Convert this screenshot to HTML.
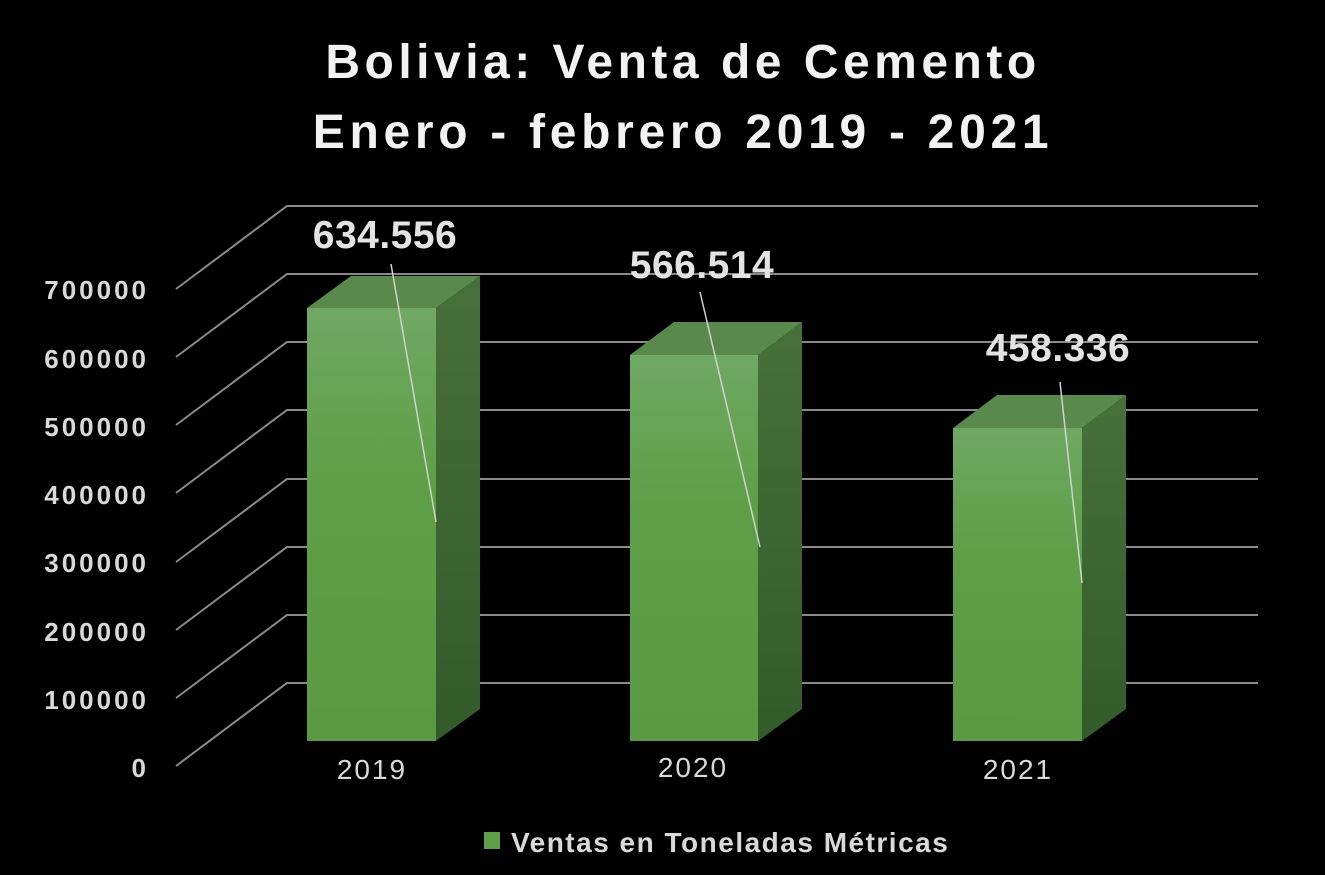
<!DOCTYPE html>
<html><head><meta charset="utf-8"><style>
html,body{margin:0;padding:0;background:#000;}
svg{display:block}
</style></head><body>
<svg width="1325" height="875" viewBox="0 0 1325 875" xmlns="http://www.w3.org/2000/svg">
<defs>
<linearGradient id="f" x1="0" y1="0" x2="0" y2="1"><stop offset="0" stop-color="#6fa863"/><stop offset="0.4" stop-color="#5e9f46"/><stop offset="1" stop-color="#5b9a42"/></linearGradient>
<linearGradient id="s" x1="0" y1="0" x2="0" y2="1"><stop offset="0" stop-color="#47703a"/><stop offset="1" stop-color="#325b2a"/></linearGradient>
</defs>
<rect width="1325" height="875" fill="#000"/>
<g font-family="'Liberation Sans',sans-serif" font-weight="bold" fill="#f2f2f2" text-anchor="middle">
<text x="683" y="78" font-size="48" letter-spacing="4.5">Bolivia: Venta de Cemento</text>
<text x="683" y="148" font-size="48" letter-spacing="4.7">Enero - febrero 2019 - 2021</text>
</g>
<g stroke="#8a8a8a" stroke-width="2" fill="none">
<polyline points="176,766 287,683 1258,683"/>
<polyline points="176,698 287,615 1258,615"/>
<polyline points="176,630 287,547 1258,547"/>
<polyline points="176,562 287,479 1258,479"/>
<polyline points="176,493 287,410 1258,410"/>
<polyline points="176,425 287,342 1258,342"/>
<polyline points="176,357 287,274 1258,274"/>
<polyline points="176,289 287,206 1258,206"/>
</g>
<g font-family="'Liberation Sans',sans-serif" font-weight="bold" font-size="26" letter-spacing="3" fill="#d9d9d9" text-anchor="end">
<text x="149" y="299">700000</text>
<text x="149" y="368">600000</text>
<text x="149" y="436">500000</text>
<text x="149" y="504">400000</text>
<text x="149" y="572">300000</text>
<text x="149" y="641">200000</text>
<text x="149" y="709">100000</text>
<text x="149" y="777">0</text>
</g>
<g>
<polygon points="307,308 351,276 480,276 436,308" fill="#5a8a4b"/>
<polygon points="436,308 480,276 480,709 436,741" fill="url(#s)"/>
<rect x="307" y="308" width="129" height="433" fill="url(#f)"/>
<polygon points="630,355 674,322 802,322 758,355" fill="#5a8a4b"/>
<polygon points="758,355 802,322 802,709 758,741" fill="url(#s)"/>
<rect x="630" y="355" width="128" height="386" fill="url(#f)"/>
<polygon points="953,428 997,395 1126,395 1082,428" fill="#5a8a4b"/>
<polygon points="1082,428 1126,395 1126,709 1082,741" fill="url(#s)"/>
<rect x="953" y="428" width="129" height="313" fill="url(#f)"/>
</g>
<g stroke="#d0d0d0" stroke-width="1.5">
<line x1="391" y1="264" x2="436" y2="522"/>
<line x1="700" y1="292" x2="760" y2="547"/>
<line x1="1060" y1="382" x2="1082" y2="583"/>
</g>
<g font-family="'Liberation Sans',sans-serif" font-weight="bold" font-size="39" letter-spacing="0.5" fill="#e3e3e3" text-anchor="middle">
<text x="385" y="248">634.556</text>
<text x="702" y="278">566.514</text>
<text x="1058" y="361">458.336</text>
</g>
<g font-family="'Liberation Sans',sans-serif" font-size="28" letter-spacing="2" fill="#d9d9d9" text-anchor="middle">
<text x="372" y="779">2019</text>
<text x="693" y="777">2020</text>
<text x="1018" y="779">2021</text>
</g>
<rect x="484" y="832" width="16" height="17" fill="#5e9f46"/>
<text x="511" y="852" font-family="'Liberation Sans',sans-serif" font-weight="bold" font-size="28" letter-spacing="1.5" fill="#d9d9d9">Ventas en Toneladas Métricas</text>
</svg>
</body></html>
